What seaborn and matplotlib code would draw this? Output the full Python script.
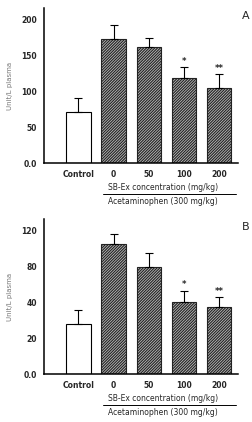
import numpy as np
import pandas as pd
import matplotlib
matplotlib.use('Agg')
import matplotlib.pyplot as plt
import matplotlib.transforms as mtrans
import seaborn as sns

# data
groups = ['Control', '0', '50', '100', '200']
a_mean = [71, 173.5, 162, 118, 105]
a_err = [20, 18.5, 12, 16, 19]
b_mean = [28, 105, 80, 40, 37.5]
b_err = [8, 11.5, 15, 13, 8.5]
signif = ['', '', '', '*', '**']

a_ticks = [0, 50, 100, 150, 200]
a_ticklabels = ['0.0', '50', '100', '150', '200']
b_ticks = [0, 20, 40, 80, 120]
b_ticklabels = ['0.0', '20', '40', '80', '120']

sns.set_style('white')
plt.rcParams['font.family'] = ['DejaVu Sans']
plt.rcParams['hatch.linewidth'] = 0.8

fig = plt.figure(figsize=(2.53, 4.22), dpi=100)
axA = fig.add_axes([0.174, 0.6137, 0.767, 0.367])
axB = fig.add_axes([0.174, 0.1137, 0.767, 0.367])

# panel B uses an irregular (piecewise) y axis
knot_v = [0, 20, 40, 80, 120, 160]
knot_p = [0, 1, 2, 3, 4, 5]
def fwd(v):
    return np.interp(v, knot_v, knot_p)
def inv(p):
    return np.interp(p, knot_p, knot_v)


def draw_panel(ax, means, errs, ticks, ticklabels, letter):
    df = pd.DataFrame({'group': groups, 'value': means})
    sns.barplot(data=df, x='group', y='value', order=groups, width=0.69,
                color='white', errorbar=None, ax=ax)
    for i, p in enumerate(ax.patches):
        p.set_facecolor('white')
        p.set_edgecolor('black')
        p.set_linewidth(0.8)
        if i > 0:
            p.set_facecolor('#bbbbbb')
            p.set_edgecolor('#222222')
            p.set_hatch('////////////')
    x = np.arange(len(groups))
    ax.errorbar(x, means, yerr=[np.zeros(len(errs)), errs], fmt='none',
                ecolor='black', elinewidth=0.8, capsize=3, capthick=0.8)
    for xi, m, e, s in zip(x, means, errs, signif):
        if s:
            ax.annotate(s, (xi, m + e), xytext=(0, 1), textcoords='offset points',
                        ha='center', va='bottom', fontsize=6, fontweight='bold')

    ax.set_xlim(-0.98, 4.54)
    ax.set_yticks(ticks)
    ax.set_yticklabels(ticklabels, fontsize=5.5, fontweight='bold')
    ax.set_xticks(x)
    ax.set_xticklabels([])
    ax.tick_params(axis='x', length=0)
    ax.tick_params(axis='y', direction='in', length=3, width=0.6, pad=5)
    ax.set_xlabel('')
    ax.set_ylabel('Unit/L plasma', fontsize=5, color='#777777', labelpad=6)
    for side in ['top', 'right']:
        ax.spines[side].set_visible(False)
    for side in ['left', 'bottom']:
        ax.spines[side].set_color('black')
        ax.spines[side].set_linewidth(1.1)

    tr = mtrans.blended_transform_factory(ax.transData, ax.transAxes)
    for xi, g in zip(x, groups):
        ax.text(xi, -0.071, g, transform=tr, ha='center', va='center',
                fontsize=5.5, fontweight='bold')
    ax.text(2.42, -0.155, 'SB-Ex concentration (mg/kg)', transform=tr,
            ha='center', va='center', fontsize=5.5)
    ax.plot([0.7, 4.47], [-0.203, -0.203], transform=tr, color='black',
            lw=0.7, clip_on=False)
    ax.text(2.4, -0.25, 'Acetaminophen (300 mg/kg)', transform=tr,
            ha='center', va='center', fontsize=5.5)
    ax.text(1.04, 0.95, letter, transform=ax.transAxes, ha='center',
            va='center', fontsize=8)


axB.set_yscale('function', functions=(fwd, inv))
draw_panel(axA, a_mean, a_err, a_ticks, a_ticklabels, 'A')
axA.set_ylim(0, 216)
draw_panel(axB, b_mean, b_err, b_ticks, b_ticklabels, 'B')
axB.set_ylim(0, 133)

fig.savefig('out.png', dpi=100)
